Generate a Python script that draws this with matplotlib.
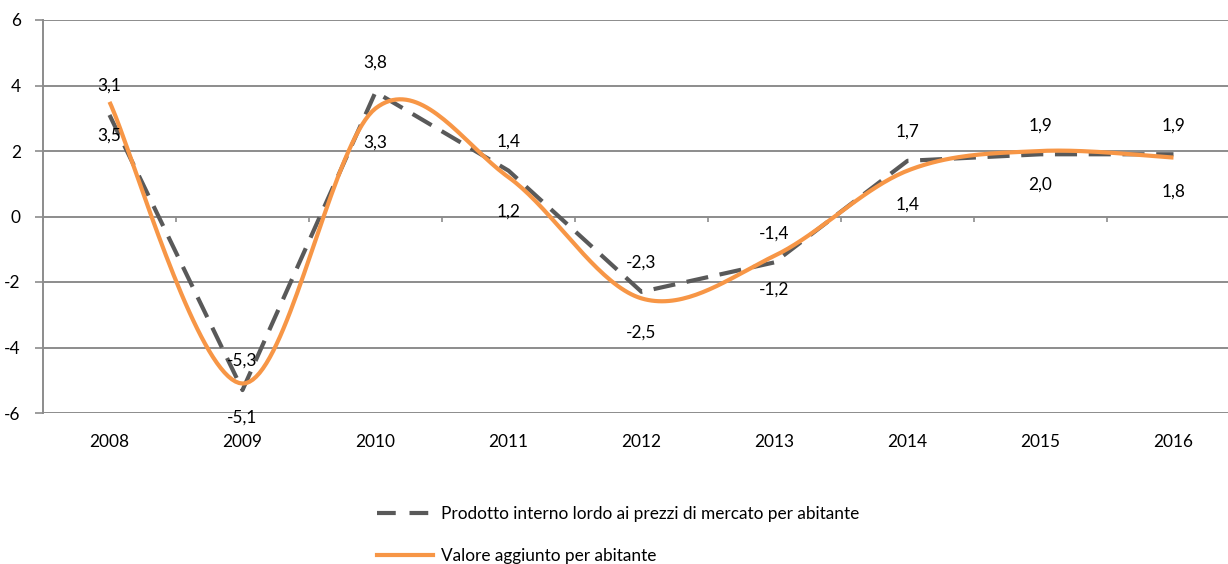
import numpy as np
import matplotlib
matplotlib.use("Agg")
import matplotlib.pyplot as plt
from matplotlib.lines import Line2D

years = ["2008", "2009", "2010", "2011", "2012", "2013", "2014", "2015", "2016"]
pil = [3.1, -5.3, 3.8, 1.4, -2.3, -1.4, 1.7, 1.9, 1.9]
va = [3.5, -5.1, 3.3, 1.2, -2.5, -1.2, 1.4, 2.0, 1.8]
pil_name = "Prodotto interno lordo ai prezzi di mercato per abitante"
va_name = "Valore aggiunto per abitante"
yticks = [-6, -4, -2, 0, 2, 4, 6]

plt.rcParams['font.family'] = ['Lato', 'DejaVu Sans']
FS = 12.4

W, H = 1228, 564
fig = plt.figure(figsize=(W / 100, H / 100), dpi=100)
ax = fig.add_axes([43 / W, (H - 413) / H, 1197 / W, 393 / H])


def smooth(xs, ys, n=40):
    P = np.column_stack([xs, ys]).astype(float)
    m = len(P)
    out = []
    for i in range(m - 1):
        p0 = P[i - 1] if i > 0 else P[i]
        p1 = P[i]
        p2 = P[i + 1]
        p3 = P[i + 2] if i + 2 < m else P[i + 1]
        c1 = p1 + (p2 - p0) / 6.0
        c2 = p2 - (p3 - p1) / 6.0
        t = np.linspace(0, 1, n)[:, None]
        seg = ((1 - t) ** 3) * p1 + 3 * ((1 - t) ** 2) * t * c1 + 3 * (1 - t) * t ** 2 * c2 + t ** 3 * p2
        if i > 0:
            seg = seg[1:]
        out.append(seg)
    out = np.vstack(out)
    return out[:, 0], out[:, 1]


x = np.arange(len(years))
grid_c = "#8c8c8c"
for yv in yticks:
    ax.axhline(yv, color=grid_c, lw=1.4, zorder=1)

# category boundary ticks on zero line
bounds = np.arange(len(years) + 1) - 0.5
ax.vlines(bounds, -0.17, 0, color=grid_c, lw=1.2, zorder=1)

dark = "#595959"
orange = "#F79646"
ax.plot(x, pil, color=dark, lw=3.0, dashes=(5.3, 2.8), zorder=3)
sx2, sy2 = smooth(x, va)
ax.plot(sx2, sy2, color=orange, lw=3.0, zorder=4, solid_capstyle='butt')

for xi, v in zip(x, pil):
    ax.annotate(f"{v:.1f}".replace(".", ","), (xi, v), xytext=(0, 29), textcoords="offset pixels",
                ha="center", va="center", fontsize=FS, color="#000000", zorder=5)
for xi, v in zip(x, va):
    ax.annotate(f"{v:.1f}".replace(".", ","), (xi, v), xytext=(0, -34), textcoords="offset pixels",
                ha="center", va="center", fontsize=FS, color="#000000", zorder=5)

ax.set_xlim(-0.5, len(years) - 0.5)
ax.set_ylim(-6, 6)
ax.set_yticks(yticks)
ax.set_yticklabels([str(v) for v in yticks], fontsize=FS)
ax.set_xticks(x)
ax.set_xticklabels(years, fontsize=FS)
ax.tick_params(axis='x', length=0, pad=15)
ax.tick_params(axis='y', length=6, color=grid_c, width=1.2, pad=10)
for s in ["top", "right", "bottom"]:
    ax.spines[s].set_visible(False)
ax.spines["left"].set_color(grid_c)
ax.spines["left"].set_linewidth(1.4)

handles = [Line2D([], [], color=dark, lw=3.0, dashes=(4.5, 3.3)),
           Line2D([], [], color=orange, lw=3.0)]
leg = fig.legend(handles, [pil_name, va_name], loc="upper left",
                 bbox_to_anchor=(368 / W, (H - 497) / H), frameon=False,
                 fontsize=FS, handlelength=3.3, handletextpad=0.45, labelspacing=1.55,
                 borderpad=0)

fig.savefig("out.png", dpi=100)
